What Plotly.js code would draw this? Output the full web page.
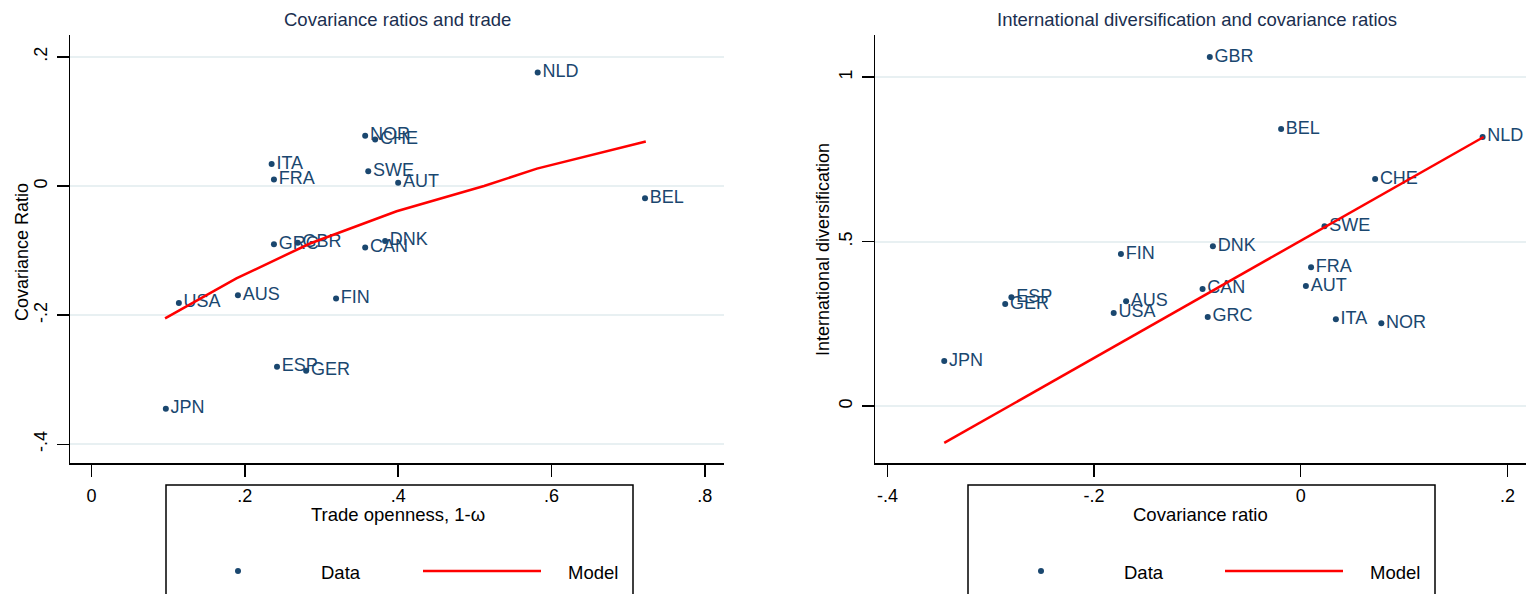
<!DOCTYPE html>
<html>
<head>
<meta charset="utf-8">
<script src="https://cdn.plot.ly/plotly-3.0.1.min.js"></script>
<style>html,body{margin:0;padding:0;background:#fff;}#chart{width:1530px;height:594px;}</style>
</head>
<body>
<div id="chart"></div>
<script>
// ---- data ----
const countries = ['NLD','NOR','CHE','ITA','FRA','SWE','AUT','BEL','GRC','GBR','DNK','CAN','AUS','FIN','USA','ESP','GER','JPN'];
const tradeOpenness = [0.582,0.357,0.370,0.235,0.238,0.361,0.400,0.722,0.238,0.269,0.383,0.357,0.191,0.319,0.114,0.242,0.280,0.097];
const covRatio = [0.176,0.078,0.072,0.034,0.010,0.023,0.005,-0.019,-0.090,-0.088,-0.085,-0.095,-0.169,-0.174,-0.181,-0.280,-0.286,-0.345];
const intlDiv = [0.818,0.252,0.690,0.264,0.422,0.547,0.365,0.842,0.271,1.061,0.486,0.356,0.319,0.462,0.283,0.331,0.310,0.137];

const modelTradeX = [0.096,0.189,0.285,0.398,0.512,0.581,0.723];
const modelTradeY = [-0.205,-0.143,-0.089,-0.039,0.000,0.027,0.069];
const modelDivX = [-0.345,0.177];
const modelDivY = [-0.112,0.818];

const leftXTicks = [0,0.2,0.4,0.6,0.8];
const leftXTickText = ['0','.2','.4','.6','.8'];
const leftYTicks = [-0.4,-0.2,0,0.2];
const leftYTickText = ['-.4','-.2','0','.2'];
const rightXTicks = [-0.4,-0.2,0,0.2];
const rightXTickText = ['-.4','-.2','0','.2'];
const rightYTicks = [0,0.5,1];
const rightYTickText = ['0','.5','1'];

const titles = ['Covariance ratios and trade','International diversification and covariance ratios'];
const xTitles = ['Trade openness, 1-ω','Covariance ratio'];
const yTitles = ['Covariance Ratio','International diversification'];
const legendLabels = ['Data','Model'];

// ---- style ----
const NAVY = '#1a476f';
const RED = '#ff0000';
const GRID = '#e8f0f2';
const FONT = 'Liberation Sans, Arial, sans-serif';
const W = 1530, H = 594;
const px = x => x / W;
const py = y => 1 - y / H;

const traces = [
  {x: tradeOpenness, y: covRatio, text: countries, mode: 'markers+text', type: 'scatter',
   textposition: 'middle right', textfont: {family: FONT, size: 18, color: NAVY},
   marker: {color: NAVY, size: 6}, xaxis: 'x', yaxis: 'y', cliponaxis: false, hoverinfo: 'none'},
  {x: modelTradeX, y: modelTradeY, mode: 'lines', type: 'scatter', line: {color: RED, width: 2.5},
   xaxis: 'x', yaxis: 'y', hoverinfo: 'none'},
  {x: covRatio, y: intlDiv, text: countries, mode: 'markers+text', type: 'scatter',
   textposition: 'middle right', textfont: {family: FONT, size: 18, color: NAVY},
   marker: {color: NAVY, size: 6}, xaxis: 'x2', yaxis: 'y2', cliponaxis: false, hoverinfo: 'none'},
  {x: modelDivX, y: modelDivY, mode: 'lines', type: 'scatter', line: {color: RED, width: 2.5},
   xaxis: 'x2', yaxis: 'y2', hoverinfo: 'none'}
];

function xax(domain, range, tv, tt, anchor) {
  return {domain: domain, range: range, tickvals: tv, ticktext: tt, showgrid: false, zeroline: false, anchor: anchor,
    showline: true, linecolor: '#000', linewidth: 1.5, ticks: 'outside', ticklen: 12, tickwidth: 1.5, tickcolor: '#000',
    ticklabelstandoff: 4, tickfont: {family: FONT, size: 18, color: '#000'}, automargin: false};
}
function yax(domain, range, tv, tt, anchor) {
  return {domain: domain, range: range, tickvals: tv, ticktext: tt, showgrid: true, gridcolor: GRID, gridwidth: 2,
    zeroline: false, showline: true, linecolor: '#000', linewidth: 1.5, ticks: 'outside', ticklen: 12, tickwidth: 1.5,
    tickcolor: '#000', tickangle: -90, ticklabelstandoff: 2, tickfont: {family: FONT, size: 18, color: '#000'},
    automargin: false, anchor: anchor};
}
function ann(text, x, y, size, color, angle) {
  return {text: text, x: px(x), y: py(y), xref: 'paper', yref: 'paper', xanchor: 'center', yanchor: 'middle',
    showarrow: false, textangle: angle || 0, font: {family: FONT, size: size, color: color}};
}

const yDom = [py(463), py(35)];
const layout = {
  width: W, height: H, margin: {l: 0, r: 0, t: 0, b: 0}, showlegend: false,
  paper_bgcolor: '#fff', plot_bgcolor: '#fff',
  xaxis: xax([px(70), px(724)], [-0.028, 0.825], leftXTicks, leftXTickText, 'y'),
  yaxis: yax(yDom, [-0.429, 0.234], leftYTicks, leftYTickText, 'x'),
  xaxis2: xax([px(875), px(1526)], [-0.412, 0.218], rightXTicks, rightXTickText, 'y2'),
  yaxis2: yax(yDom, [-0.173, 1.128], rightYTicks, rightYTickText, 'x2'),
  annotations: [
    ann(titles[0], 397, 20, 18.5, '#1a2f50'),
    ann(titles[1], 1197, 20, 18.5, '#1a2f50'),
    ann(xTitles[0], 398, 514, 18.5, '#000'),
    ann(xTitles[1], 1200, 514, 18.5, '#000'),
    ann(yTitles[0], 22, 252, 18, '#000', -90),
    ann(yTitles[1], 823, 250, 18, '#000', -90),
    ann(legendLabels[0], 341, 572, 18.5, '#000'),
    ann(legendLabels[1], 593, 572, 18.5, '#000'),
    ann(legendLabels[0], 1144, 572, 18.5, '#000'),
    ann(legendLabels[1], 1395, 572, 18.5, '#000')
  ],
  shapes: [
    {type: 'rect', xref: 'paper', yref: 'paper', x0: px(166), x1: px(633), y0: py(600), y1: py(485), line: {color: '#000', width: 1.5}},
    {type: 'rect', xref: 'paper', yref: 'paper', x0: px(968), x1: px(1435), y0: py(600), y1: py(485), line: {color: '#000', width: 1.5}},
    {type: 'circle', xref: 'paper', yref: 'paper', x0: px(235), x1: px(241), y0: py(574), y1: py(568), fillcolor: NAVY, line: {width: 0}},
    {type: 'circle', xref: 'paper', yref: 'paper', x0: px(1038), x1: px(1044), y0: py(574), y1: py(568), fillcolor: NAVY, line: {width: 0}},
    {type: 'line', xref: 'paper', yref: 'paper', x0: px(423), x1: px(541), y0: py(571), y1: py(571), line: {color: RED, width: 2.5}},
    {type: 'line', xref: 'paper', yref: 'paper', x0: px(1225), x1: px(1343), y0: py(571), y1: py(571), line: {color: RED, width: 2.5}}
  ]
};

Plotly.newPlot('chart', traces, layout, {staticPlot: true, displayModeBar: false});
</script>
</body>
</html>
